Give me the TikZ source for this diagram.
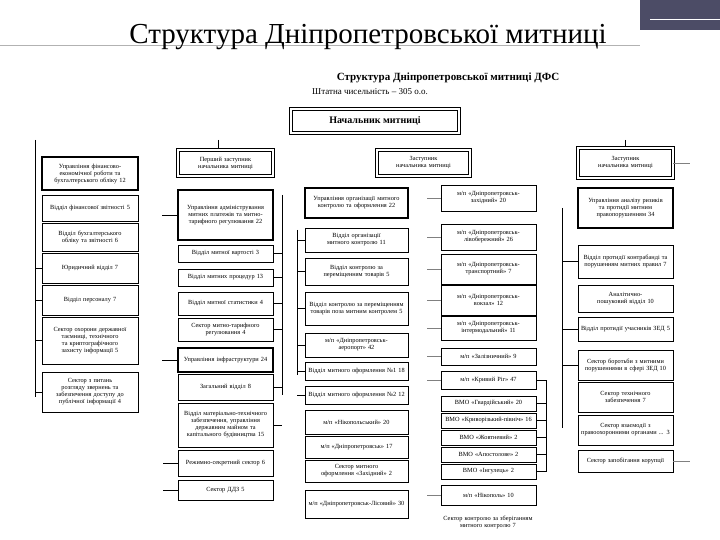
\documentclass[tikz,border=0pt]{standalone}
\usepackage{fontspec}
\setmainfont{Liberation Serif}
\begin{document}
\begin{tikzpicture}[x=1pt,y=-1pt,
 bx/.style={draw,line width=0.6pt,align=center,inner sep=1pt,font=\fontsize{6.3}{7}\selectfont},
 ob/.style={align=center,inner sep=1pt,font=\fontsize{6.3}{7}\selectfont},
 hd/.style={draw,double,double distance=2pt,line width=0.8pt,align=center,inner sep=2pt,font=\fontsize{6.3}{7}\selectfont},
 ln/.style={line width=0.6pt}]
\newcommand{\B}[7][bx]{\node[#1,minimum width=#5pt,minimum height=#6pt,text width=\dimexpr#5pt-6pt\relax] (#2) at ({#3+#5/2},{#4+#6/2}) {#7};}
\useasboundingbox (0,0) rectangle (720,540);
\fill[white] (0,0) rectangle (720,540);
\coordinate (b2) at (282,0);
\coordinate (b3) at (297,0);
\coordinate (b5) at (562,0);
% header decoration
\fill[black!75!blue!40!gray] (640,0) rectangle (720,30);
\draw[gray!60,line width=1pt] (0,46) -- (640,46);
\draw[white,line width=1pt] (650,20) -- (720,20);
\node[font=\fontsize{29}{31}\selectfont,anchor=base] (title) at (368,44) {Структура Дніпропетровської митниці};
\node[font=\bfseries\fontsize{11}{12}\selectfont] (t2) at (448,78) {Структура Дніпропетровської митниці ДФС};
\node[font=\fontsize{9}{10}\selectfont] (t3) at (370,92) {Штатна чисельність – 305 о.о.};
\node[draw,double,double distance=2pt,line width=0.8pt,minimum width=168pt,minimum height=24pt,font=\bfseries\fontsize{10}{11}\selectfont] (head) at (375,121) {Начальник митниці};
% column 1
\draw[ln] (35,140) -- (35,397);
\B[bx,line width=1.2pt]{c1a}{42}{157}{96}{33}{Управління фінансово-економічної роботи та бухгалтерського обліку 12}
\B{c1b}{42}{195}{96}{26}{Відділ фінансової звітності 5}
\B{c1c}{42}{223}{96}{28}{Відділ бухгалтерського обліку та звітності 6}
\B{c1d}{42}{253}{96}{30}{Юридичний відділ 7}
\B{c1e}{42}{285}{96}{30}{Відділ персоналу 7}
\B{c1f}{42}{317}{96}{47}{Сектор охорони державної таємниці, технічного та криптографічного захисту інформації 5}
\B{c1g}{42}{372}{96}{40}{Сектор з питань розгляду звернень та забезпечення доступу до публічної інформації 4}
\foreach \n in {c1d,c1e,c1f,c1g} \draw[ln] (\n.west) -- ++(-7,0);
% column 2
\draw[ln] (218,140) -- (218,150);
\B[hd]{c2h}{178}{150}{95}{26}{Перший заступник начальника митниці}
\draw[ln] (282,195) -- (282,395);
\B[bx,line width=1.2pt]{c2a}{178}{190}{95}{50}{Управління адміністрування митних платежів та митно-тарифного регулювання 22}
\B{c2b}{178}{245}{95}{17}{Відділ митної вартості 3}
\B{c2c}{178}{269}{95}{17}{Відділ митних процедур 13}
\B{c2d}{178}{292}{95}{23}{Відділ митної статистики 4}
\B{c2e}{178}{318}{95}{23}{Сектор митно-тарифного регулювання 4}
\B[bx,line width=1.2pt]{c2f}{178}{348}{95}{24}{Управління інфраструктури 24}
\B{c2g}{178}{374}{95}{26}{Загальний відділ 8}
\B{c2i}{178}{403}{95}{44}{Відділ матеріально-технічного забезпечення, управління державним майном та капітального будівництва 15}
\B{c2j}{178}{450}{95}{26}{Режимно-секретний сектор 6}
\B{c2k}{178}{480}{95}{20}{Сектор ДДЗ 5}
\foreach \n in {c2b,c2c,c2d,c2e,c2g,c2i} \draw[ln] (\n.east) -- (\n.east -| b2);
\foreach \n in {c2a,c2f,c2j,c2k} \draw[ln] (\n.west) -- ++(-15,0);
% column 3
\node[hd,minimum width=93pt,minimum height=26pt,text width=70pt] (c3h) at (423.5,163) {Заступник начальника митниці};
\draw[ln] (297,230) -- (297,375);
\B[bx,line width=1.2pt]{c3a}{305}{188}{103}{30}{Управління організації митного контролю та оформлення 22}
\B{c3b}{305}{228}{103}{24}{Відділ організації митного контролю 11}
\B{c3c}{305}{258}{103}{27}{Відділ контролю за переміщенням товарів 5}
\B{c3d}{305}{292}{103}{33}{Відділ контролю за переміщенням товарів поза митним контролем 5}
\B{c3e}{305}{333}{103}{24}{м/п «Дніпропетровськ-аеропорт» 42}
\B{c3f}{305}{362}{103}{18}{Відділ митного оформлення №1 18}
\B{c3g}{305}{386}{103}{18}{Відділ митного оформлення №2 12}
\B{c3i}{305}{410}{103}{24}{м/п «Нікопольський» 20}
\B{c3j}{305}{436}{103}{22}{м/п «Дніпропетровськ» 17}
\B{c3k}{305}{460}{103}{22}{Сектор митного оформлення «Західний» 2}
\B{c3l}{305}{490}{103}{28}{м/п «Дніпропетровськ-Лісовий» 30}
\foreach \n in {c3b,c3c,c3d,c3e,c3f,c3g} \draw[ln] (\n.west) -- (\n.west -| b3);
% column 4
\B{c4a}{441}{185}{95}{26}{м/п «Дніпропетровськ-західний» 20}
\B{c4b}{441}{224}{95}{26}{м/п «Дніпропетровськ-лівобережний» 26}
\B{c4c}{441}{254}{95}{30}{м/п «Дніпропетровськ-транспортний» 7}
\B{c4d}{441}{285}{95}{30}{м/п «Дніпропетровськ-вокзал» 12}
\B{c4e}{441}{316}{95}{24}{м/п «Дніпропетровськ-інтермодальний» 11}
\B{c4f}{441}{348}{95}{17}{м/п «Залізничний» 9}
\B{c4g}{441}{371}{95}{18}{м/п «Кривий Ріг» 47}
\B{c4h}{441}{396}{95}{15}{ВМО «Гвардійський» 20}
\B{c4i}{441}{413}{95}{15}{ВМО «Криворізький-північ» 16}
\B{c4j}{441}{430}{95}{15}{ВМО «Жовтневий» 2}
\B{c4k}{441}{447}{95}{15}{ВМО «Апостолове» 2}
\B{c4l}{441}{464}{95}{15}{ВМО «Інгулець» 2}
\B{c4m}{441}{485}{95}{20}{м/п «Нікополь» 10}
\node[ob,text width=95pt] (c4n) at (488,522) {Сектор контролю за зберіганням митного контролю 7};
\foreach \n in {c4a,c4b,c4c,c4d,c4e,c4f,c4g,c4m} \draw[ln,gray] (\n.west) -- ++(-14,0);
\draw[ln] (c4g.east) -- ++(10,0) coordinate (kb) -- (kb|-c4l.east) -- (c4l.east);
\foreach \n in {c4h,c4i,c4j,c4k} \draw[ln] (\n.east) -- (\n.east -| kb);
% column 5
\draw[ln] (625,140) -- (625,148);
\node[hd,minimum width=95pt,minimum height=30pt,text width=70pt] (c5h) at (625.5,163) {Заступник начальника митниці};
\draw[ln,gray] (c5h.east) -- ++(17,0);
\draw[ln] (562,208) -- (562,428);
\B[bx,line width=1.2pt]{c5a}{578}{188}{95}{40}{Управління аналізу ризиків та протидії митним правопорушенням 34}
\B{c5b}{578}{245}{95}{33}{Відділ протидії контрабанді та порушенням митних правил 7}
\B{c5c}{578}{285}{95}{27}{Аналітично-пошуковий відділ 10}
\B{c5d}{578}{317}{95}{24}{Відділ протидії учасників ЗЕД 5}
\B{c5e}{578}{350}{95}{30}{Сектор боротьби з митними порушеннями в сфері ЗЕД 10}
\B{c5f}{578}{382}{95}{30}{Сектор технічного забезпечення 7}
\B{c5g}{578}{415}{95}{30}{Сектор взаємодії з правоохоронними органами ... 3}
\B{c5i}{578}{450}{95}{22}{Сектор запобігання корупції}
\foreach \n in {c5b,c5d,c5e} \draw[ln] (\n.west) -- (\n.west -| b5);
\draw[ln,gray] (c5i.east) -- ++(17,0);
\end{tikzpicture}
\end{document}
